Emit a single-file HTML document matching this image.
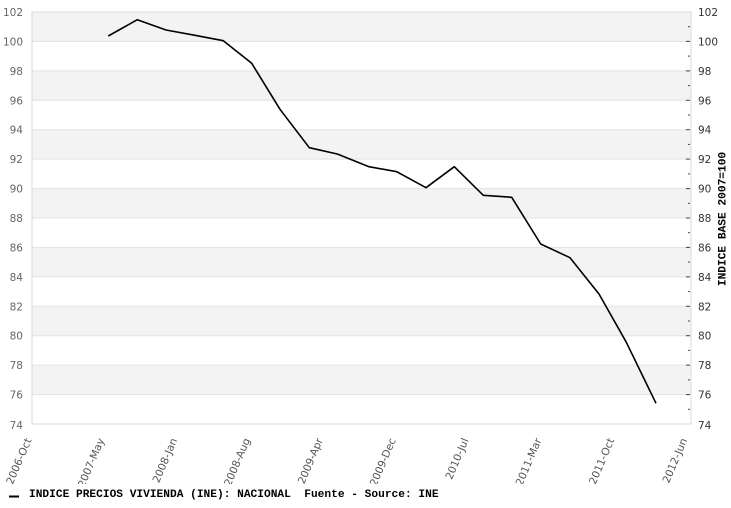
<!DOCTYPE html>
<html><head><meta charset="utf-8"><style>
html,body{margin:0;padding:0;background:#fff;}
svg{display:block;}
</style></head><body>
<svg width="731" height="508" viewBox="0 0 731 508" xmlns="http://www.w3.org/2000/svg">
<defs><clipPath id="xc"><rect x="0" y="426" width="731" height="58"/></clipPath></defs>
<rect width="731" height="508" fill="#fff"/>
<g fill="#f3f3f3">
<rect x="32" y="12" width="659" height="29.4"/>
<rect x="32" y="70.9" width="659" height="29.4"/>
<rect x="32" y="129.7" width="659" height="29.4"/>
<rect x="32" y="188.6" width="659" height="29.4"/>
<rect x="32" y="247.4" width="659" height="29.4"/>
<rect x="32" y="306.3" width="659" height="29.4"/>
<rect x="32" y="365.1" width="659" height="29.4"/>
</g>
<g stroke="#e3e3e3" stroke-width="1">
<line x1="32" x2="691" y1="12" y2="12"/>
<line x1="32" x2="691" y1="41.4" y2="41.4"/>
<line x1="32" x2="691" y1="70.9" y2="70.9"/>
<line x1="32" x2="691" y1="100.3" y2="100.3"/>
<line x1="32" x2="691" y1="129.7" y2="129.7"/>
<line x1="32" x2="691" y1="159.1" y2="159.1"/>
<line x1="32" x2="691" y1="188.6" y2="188.6"/>
<line x1="32" x2="691" y1="218" y2="218"/>
<line x1="32" x2="691" y1="247.4" y2="247.4"/>
<line x1="32" x2="691" y1="276.9" y2="276.9"/>
<line x1="32" x2="691" y1="306.3" y2="306.3"/>
<line x1="32" x2="691" y1="335.7" y2="335.7"/>
<line x1="32" x2="691" y1="365.1" y2="365.1"/>
<line x1="32" x2="691" y1="394.6" y2="394.6"/>
</g>
<rect x="32" y="12" width="659" height="412" fill="none" stroke="#d8d8d8" stroke-width="1"/>
<g stroke="#444" stroke-width="1">
<line x1="686" x2="690" y1="41.4" y2="41.4"/>
<line x1="686" x2="690" y1="70.9" y2="70.9"/>
<line x1="686" x2="690" y1="100.3" y2="100.3"/>
<line x1="686" x2="690" y1="129.7" y2="129.7"/>
<line x1="686" x2="690" y1="159.1" y2="159.1"/>
<line x1="686" x2="690" y1="188.6" y2="188.6"/>
<line x1="686" x2="690" y1="218" y2="218"/>
<line x1="686" x2="690" y1="247.4" y2="247.4"/>
<line x1="686" x2="690" y1="276.9" y2="276.9"/>
<line x1="686" x2="690" y1="306.3" y2="306.3"/>
<line x1="686" x2="690" y1="335.7" y2="335.7"/>
<line x1="686" x2="690" y1="365.1" y2="365.1"/>
<line x1="686" x2="690" y1="394.6" y2="394.6"/>
<line x1="688" x2="690" y1="26.7" y2="26.7"/>
<line x1="688" x2="690" y1="56.1" y2="56.1"/>
<line x1="688" x2="690" y1="85.6" y2="85.6"/>
<line x1="688" x2="690" y1="115" y2="115"/>
<line x1="688" x2="690" y1="144.4" y2="144.4"/>
<line x1="688" x2="690" y1="173.9" y2="173.9"/>
<line x1="688" x2="690" y1="203.3" y2="203.3"/>
<line x1="688" x2="690" y1="232.7" y2="232.7"/>
<line x1="688" x2="690" y1="262.1" y2="262.1"/>
<line x1="688" x2="690" y1="291.6" y2="291.6"/>
<line x1="688" x2="690" y1="321" y2="321"/>
<line x1="688" x2="690" y1="350.4" y2="350.4"/>
<line x1="688" x2="690" y1="379.9" y2="379.9"/>
<line x1="688" x2="690" y1="409.3" y2="409.3"/>
</g>
<g font-family="DejaVu Sans, Liberation Sans, sans-serif" font-size="10.5" fill="#666" text-anchor="end">
<text x="23" y="16">102</text>
<text x="23" y="45.4">100</text>
<text x="23" y="74.9">98</text>
<text x="23" y="104.3">96</text>
<text x="23" y="133.7">94</text>
<text x="23" y="163.1">92</text>
<text x="23" y="192.6">90</text>
<text x="23" y="222">88</text>
<text x="23" y="251.4">86</text>
<text x="23" y="280.9">84</text>
<text x="23" y="310.3">82</text>
<text x="23" y="339.7">80</text>
<text x="23" y="369.1">78</text>
<text x="23" y="398.6">76</text>
<text x="23" y="429">74</text>
</g>
<g font-family="DejaVu Sans, Liberation Sans, sans-serif" font-size="10.5" fill="#333">
<text x="698" y="16">102</text>
<text x="698" y="45.4">100</text>
<text x="698" y="74.9">98</text>
<text x="698" y="104.3">96</text>
<text x="698" y="133.7">94</text>
<text x="698" y="163.1">92</text>
<text x="698" y="192.6">90</text>
<text x="698" y="222">88</text>
<text x="698" y="251.4">86</text>
<text x="698" y="280.9">84</text>
<text x="698" y="310.3">82</text>
<text x="698" y="339.7">80</text>
<text x="698" y="369.1">78</text>
<text x="698" y="398.6">76</text>
<text x="698" y="429">74</text>
</g>
<g clip-path="url(#xc)" font-family="DejaVu Sans, Liberation Sans, sans-serif" font-size="10.5" fill="#555" text-anchor="end">
<text transform="translate(31.7,440) rotate(-67)">2006-Oct</text>
<text transform="translate(104.6,440) rotate(-67)">2007-May</text>
<text transform="translate(177.4,440) rotate(-67)">2008-Jan</text>
<text transform="translate(250.3,440) rotate(-67)">2008-Aug</text>
<text transform="translate(323.1,440) rotate(-67)">2009-Apr</text>
<text transform="translate(396,440) rotate(-67)">2009-Dec</text>
<text transform="translate(468.8,440) rotate(-67)">2010-Jul</text>
<text transform="translate(541.7,440) rotate(-67)">2011-Mar</text>
<text transform="translate(614.5,440) rotate(-67)">2011-Oct</text>
<text transform="translate(687.4,440) rotate(-67)">2012-Jun</text>
</g>
<polyline fill="none" stroke="#000" stroke-width="1.6" stroke-linejoin="round" points="108.3,36 137.3,19.7 166,30 195,35.3 223.3,40.7 251.7,63.3 280,109.3 309.3,147.7 337.3,154 369,166.7 396.7,171.7 426,187.7 454.3,166.7 483.3,195.3 511.7,197.3 540.7,244 570,257.7 599,294 626,341.7 656,403.3"/>
<text transform="translate(725.5,219) rotate(-90)" text-anchor="middle" font-family="Liberation Mono, DejaVu Sans Mono, monospace" font-weight="bold" font-size="11.2" fill="#000">INDICE BASE 2007=100</text>
<rect x="9" y="495.5" width="10" height="2" fill="#000"/>
<text x="29" y="497" font-family="Liberation Mono, DejaVu Sans Mono, monospace" font-weight="bold" font-size="11.2" fill="#000" xml:space="preserve">INDICE PRECIOS VIVIENDA (INE): NACIONAL  Fuente - Source: INE</text>
</svg>
</body></html>
